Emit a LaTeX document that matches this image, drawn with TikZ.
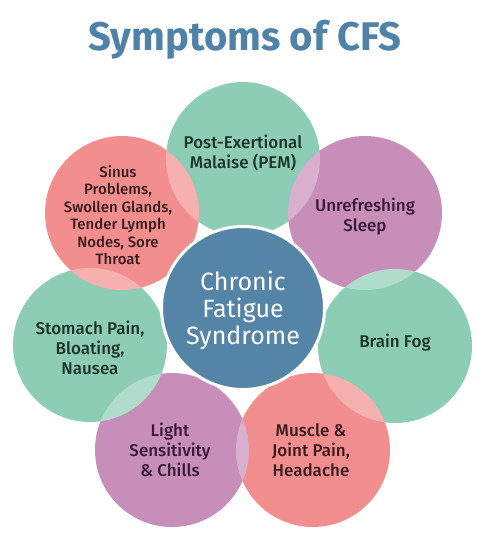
\documentclass[tikz,border=0pt]{standalone}
\usepackage{fontspec}
\setmainfont{Fira Sans}
\newfontfamily\medfont{Fira Sans Medium}
\definecolor{cgreen}{RGB}{141,205,181}
\definecolor{csalmon}{RGB}{242,143,142}
\definecolor{cpurple}{RGB}{200,142,186}
\definecolor{cblue}{RGB}{84,132,166}
\definecolor{ctitle}{RGB}{78,130,168}
\definecolor{tgreen}{RGB}{28,50,42}
\definecolor{tpurple}{RGB}{55,25,55}
\definecolor{tsalmon}{RGB}{55,25,30}
\begin{document}
\begin{tikzpicture}[x=1pt,y=-1pt,
  bubble/.style={circle,minimum size=154pt,inner sep=0pt},
  lbl/.style={align=center,font=\medfont\fontsize{17}{20}\selectfont},
  hub/.style={circle,minimum size=163pt,inner sep=0pt,fill=cblue,draw=white,line width=3pt}]
\useasboundingbox (0,0) rectangle (494,547);
\node[font=\bfseries\fontsize{40}{44}\selectfont,text=ctitle] (title) at (245,40) {Symptoms of CFS};
% outer circles
\node[bubble,fill=cgreen]   (pem)   at (243,159) {};
\node[bubble,fill=cpurple]  (sleep) at (365,213) {};
\node[bubble,fill=cgreen]   (fog)   at (395,346) {};
\node[bubble,fill=csalmon]  (musc)  at (313,450) {};
\node[bubble,fill=cpurple]  (light) at (172,450) {};
\node[bubble,fill=cgreen]   (stom)  at (90,345) {};
\node[bubble,fill=csalmon]  (sinus) at (122,213) {};
% lighter overlaps
\foreach \a/\b in {pem/sleep,sleep/fog,fog/musc,musc/light,light/stom,stom/sinus,sinus/pem}{
  \begin{scope}
    \clip (\a.center) circle (77pt);
    \fill[white,opacity=0.3] (\b.center) circle (77pt);
  \end{scope}
}
% labels
\node[lbl,text=tgreen]  (tpem)   at (243,153) {Post-Exertional\\Malaise (PEM)};
\node[lbl,text=tpurple] (tsleep) at (365,217) {Unrefreshing\\Sleep};
\node[lbl,text=tgreen]  (tfog)   at (395,343) {Brain Fog};
\node[lbl,text=tsalmon] (tmusc)  at (311,450) {Muscle \&\\Joint Pain,\\Headache};
\node[lbl,text=tpurple] (tlight) at (170,450) {Light\\Sensitivity\\\& Chills};
\node[lbl,text=tgreen]  (tstom)  at (90,348)  {Stomach Pain,\\Bloating,\\Nausea};
\node[align=center,font=\medfont\fontsize{15}{17.5}\selectfont,text=tsalmon] (tsinus) at (118,215) {Sinus\\Problems,\\Swollen Glands,\\Tender Lymph\\Nodes, Sore\\Throat};
% hub
\node[hub] (cfs) at (243,308) {};
\node[align=center,text=white,font=\fontsize{25}{27}\selectfont] (tcfs) at (243,310) {Chronic\\Fatigue\\Syndrome};
\end{tikzpicture}
\end{document}
